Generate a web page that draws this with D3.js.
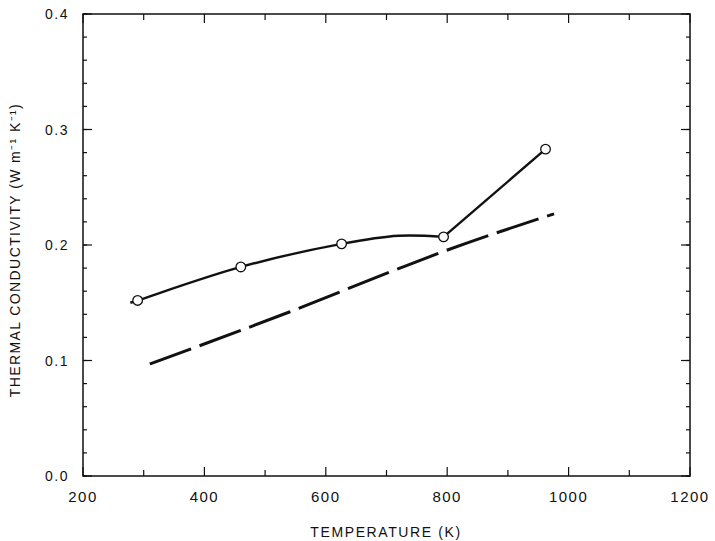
<!DOCTYPE html>
<html>
<head>
<meta charset="utf-8">
<script src="https://cdn.jsdelivr.net/npm/d3@7"></script>
<style>
  body { margin: 0; background: #fff; }
  text { font-family: "Liberation Sans", Arial, sans-serif; fill: #111; }
</style>
</head>
<body>
<div id="chart"></div>
<script>
// measured points (open circles)
const measured = [
  [290, 0.152],
  [460, 0.181],
  [626, 0.201],
  [794, 0.207],
  [962, 0.283],
];
// hand-drawn curve through the measurements
const solidCurve = [
  [278, 0.150],
  [290, 0.152],
  [460, 0.181],
  [626, 0.201],
  [720, 0.208],
  [794, 0.207],
];
const solidSegment = [
  [794, 0.207],
  [962, 0.283],
];
// dashed reference curve
const dashedCurve = [
  [310, 0.097],
  [540, 0.142],
  [722, 0.180],
  [797, 0.195],
  [976, 0.227],
];
const xTicks = [200, 400, 600, 800, 1000, 1200];
const xMinor = [300, 500, 700, 900, 1100];
const yTicks = [0.0, 0.1, 0.2, 0.3, 0.4];
const yMinor = d3.range(0, 0.401, 0.02);

const width = 715, height = 541;
const margin = { top: 14, left: 83, right: 25, bottom: 65 };
const w = 690 - margin.left, h = 476 - margin.top;

const xScale = d3.scaleLinear().domain([200, 1200]).range([0, w]);
const yScale = d3.scaleLinear().domain([0, 0.4]).range([h, 0]);

const svg = d3.select("#chart").append("svg")
  .attr("width", width)
  .attr("height", height);

const g = svg.append("g")
  .attr("transform", `translate(${margin.left}, ${margin.top})`);

// frame
g.append("rect")
  .attr("width", w).attr("height", h)
  .attr("fill", "none").attr("stroke", "#111").attr("stroke-width", 1.5);

// inward ticks on all four sides
function ticks(sel, scale, vals, len, orient) {
  sel.selectAll(null).data(vals).join("line")
    .attr("stroke", "#111").attr("stroke-width", 1.2)
    .each(function (d) {
      const s = d3.select(this), p = scale(d);
      if (orient == "bottom") s.attr("x1", p).attr("x2", p).attr("y1", h).attr("y2", h - len);
      if (orient == "top") s.attr("x1", p).attr("x2", p).attr("y1", 0).attr("y2", len);
      if (orient == "left") s.attr("y1", p).attr("y2", p).attr("x1", 0).attr("x2", len);
      if (orient == "right") s.attr("y1", p).attr("y2", p).attr("x1", w).attr("x2", w - len);
    });
}
const tg = g.append("g");
ticks(tg, xScale, xTicks, 9, "bottom");
ticks(tg, xScale, xMinor, 6, "bottom");
ticks(tg, xScale, xTicks, 9, "top");
ticks(tg, xScale, xMinor, 6, "top");
ticks(tg, yScale, yTicks, 9, "left");
ticks(tg, yScale, yMinor, 4, "left");
ticks(tg, yScale, yTicks, 9, "right");
ticks(tg, yScale, yMinor, 4, "right");

// tick labels
g.append("g").selectAll("text").data(xTicks).join("text")
  .attr("x", (d) => xScale(d))
  .attr("y", h + 26)
  .attr("text-anchor", "middle")
  .style("font-size", "15px")
  .style("letter-spacing", "1.5px")
  .text((d) => d);

g.append("g").selectAll("text").data(yTicks).join("text")
  .attr("x", -14)
  .attr("y", (d) => yScale(d) + 5)
  .attr("text-anchor", "end")
  .style("font-size", "14px")
  .style("letter-spacing", "1.5px")
  .text((d) => d.toFixed(1));

// axis titles
svg.append("text")
  .attr("x", 386).attr("y", 537)
  .attr("text-anchor", "middle")
  .style("font-size", "14px")
  .style("letter-spacing", "1.6px")
  .text("TEMPERATURE (K)");

svg.append("text")
  .attr("transform", "translate(20, 250) rotate(-90)")
  .attr("text-anchor", "middle")
  .style("font-size", "14px")
  .style("letter-spacing", "1.4px")
  .text("THERMAL CONDUCTIVITY (W m\u207B\u00B9 K\u207B\u00B9)");

const line = d3.line()
  .x((d) => xScale(d[0]))
  .y((d) => yScale(d[1]));

g.append("path")
  .attr("d", line.curve(d3.curveCatmullRom)(solidCurve))
  .attr("fill", "none").attr("stroke", "#111").attr("stroke-width", 2.4);

g.append("path")
  .attr("d", line.curve(d3.curveLinear)(solidSegment))
  .attr("fill", "none").attr("stroke", "#111").attr("stroke-width", 2.4);

g.append("path")
  .attr("d", line.curve(d3.curveMonotoneX)(dashedCurve))
  .attr("fill", "none").attr("stroke", "#111").attr("stroke-width", 3)
  .attr("stroke-dasharray", "44 9");

g.append("g").selectAll("circle").data(measured).join("circle")
  .attr("cx", (d) => xScale(d[0]))
  .attr("cy", (d) => yScale(d[1]))
  .attr("r", 4.8)
  .attr("fill", "#fff")
  .attr("stroke", "#111")
  .attr("stroke-width", 1.3);
</script>
</body>
</html>
